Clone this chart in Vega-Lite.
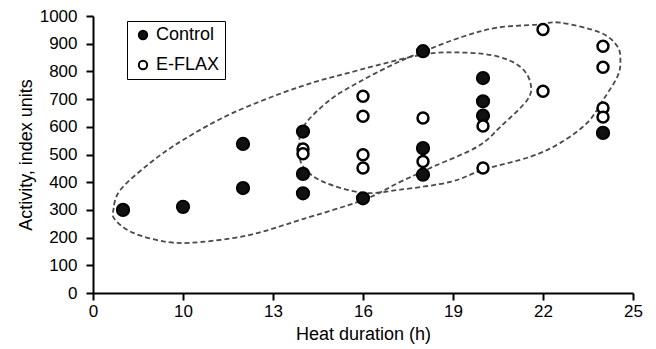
{
  "$schema": "https://vega.github.io/schema/vega-lite/v6.json",
  "width": 540,
  "height": 277,
  "autosize": {"type": "none"},
  "padding": {"left": 93, "top": 16, "right": 23, "bottom": 56},
  "background": "white",
  "config": {
    "view": {"stroke": null},
    "font": "Liberation Sans",
    "axis": {
      "grid": false,
      "domainColor": "#000",
      "domainWidth": 2,
      "tickColor": "#000",
      "tickWidth": 2,
      "tickSize": 7,
      "labelColor": "#000",
      "labelFontSize": 17,
      "labelFlush": false,
      "labelOverlap": false,
      "titleColor": "#000",
      "titleFontSize": 18,
      "titleFontWeight": "normal"
    }
  },
  "datasets": {
    "points": [
      {"hours": 8, "activity": 300, "group": "Control"},
      {"hours": 10, "activity": 311, "group": "Control"},
      {"hours": 12, "activity": 538, "group": "Control"},
      {"hours": 12, "activity": 379, "group": "Control"},
      {"hours": 14, "activity": 583, "group": "Control"},
      {"hours": 14, "activity": 430, "group": "Control"},
      {"hours": 14, "activity": 360, "group": "Control"},
      {"hours": 16, "activity": 342, "group": "Control"},
      {"hours": 18, "activity": 873, "group": "Control"},
      {"hours": 18, "activity": 523, "group": "Control"},
      {"hours": 18, "activity": 427, "group": "Control"},
      {"hours": 20, "activity": 776, "group": "Control"},
      {"hours": 20, "activity": 692, "group": "Control"},
      {"hours": 20, "activity": 640, "group": "Control"},
      {"hours": 24, "activity": 578, "group": "Control"},
      {"hours": 14, "activity": 520, "group": "E-FLAX"},
      {"hours": 14, "activity": 503, "group": "E-FLAX"},
      {"hours": 16, "activity": 710, "group": "E-FLAX"},
      {"hours": 16, "activity": 638, "group": "E-FLAX"},
      {"hours": 16, "activity": 499, "group": "E-FLAX"},
      {"hours": 16, "activity": 451, "group": "E-FLAX"},
      {"hours": 18, "activity": 632, "group": "E-FLAX"},
      {"hours": 18, "activity": 475, "group": "E-FLAX"},
      {"hours": 20, "activity": 603, "group": "E-FLAX"},
      {"hours": 20, "activity": 451, "group": "E-FLAX"},
      {"hours": 22, "activity": 951, "group": "E-FLAX"},
      {"hours": 22, "activity": 728, "group": "E-FLAX"},
      {"hours": 24, "activity": 891, "group": "E-FLAX"},
      {"hours": 24, "activity": 815, "group": "E-FLAX"},
      {"hours": 24, "activity": 668, "group": "E-FLAX"},
      {"hours": 24, "activity": 635, "group": "E-FLAX"}
    ],
    "ellipses": [
      {"e": "A", "i": 1, "hours": 7.68, "activity": 300},
      {"e": "A", "i": 2, "hours": 7.91, "activity": 372},
      {"e": "A", "i": 3, "hours": 8.91, "activity": 470},
      {"e": "A", "i": 4, "hours": 10.01, "activity": 553},
      {"e": "A", "i": 5, "hours": 11.68, "activity": 651},
      {"e": "A", "i": 6, "hours": 13.91, "activity": 745},
      {"e": "A", "i": 7, "hours": 15.91, "activity": 806},
      {"e": "A", "i": 8, "hours": 18.01, "activity": 861},
      {"e": "A", "i": 9, "hours": 19.34, "activity": 868},
      {"e": "A", "i": 10, "hours": 20.48, "activity": 854},
      {"e": "A", "i": 11, "hours": 21.24, "activity": 817},
      {"e": "A", "i": 12, "hours": 21.58, "activity": 759},
      {"e": "A", "i": 13, "hours": 21.48, "activity": 698},
      {"e": "A", "i": 14, "hours": 20.58, "activity": 600},
      {"e": "A", "i": 15, "hours": 19.81, "activity": 528},
      {"e": "A", "i": 16, "hours": 18.34, "activity": 456},
      {"e": "A", "i": 17, "hours": 17.24, "activity": 401},
      {"e": "A", "i": 18, "hours": 16.01, "activity": 336},
      {"e": "A", "i": 19, "hours": 13.91, "activity": 264},
      {"e": "A", "i": 20, "hours": 12.24, "activity": 210},
      {"e": "A", "i": 21, "hours": 10.58, "activity": 184},
      {"e": "A", "i": 22, "hours": 9.48, "activity": 184},
      {"e": "A", "i": 23, "hours": 8.34, "activity": 217},
      {"e": "A", "i": 24, "hours": 7.74, "activity": 264},
      {"e": "B", "i": 1, "hours": 13.88, "activity": 517},
      {"e": "B", "i": 2, "hours": 14.01, "activity": 600},
      {"e": "B", "i": 3, "hours": 14.91, "activity": 698},
      {"e": "B", "i": 4, "hours": 16.01, "activity": 770},
      {"e": "B", "i": 5, "hours": 17.14, "activity": 832},
      {"e": "B", "i": 6, "hours": 18.01, "activity": 872},
      {"e": "B", "i": 7, "hours": 19.34, "activity": 926},
      {"e": "B", "i": 8, "hours": 20.48, "activity": 958},
      {"e": "B", "i": 9, "hours": 21.81, "activity": 969},
      {"e": "B", "i": 10, "hours": 22.58, "activity": 976},
      {"e": "B", "i": 11, "hours": 23.91, "activity": 940},
      {"e": "B", "i": 12, "hours": 24.48, "activity": 890},
      {"e": "B", "i": 13, "hours": 24.58, "activity": 835},
      {"e": "B", "i": 14, "hours": 24.48, "activity": 781},
      {"e": "B", "i": 15, "hours": 24.01, "activity": 698},
      {"e": "B", "i": 16, "hours": 23.48, "activity": 615},
      {"e": "B", "i": 17, "hours": 22.58, "activity": 542},
      {"e": "B", "i": 18, "hours": 21.58, "activity": 492},
      {"e": "B", "i": 19, "hours": 20.01, "activity": 445},
      {"e": "B", "i": 20, "hours": 18.91, "activity": 401},
      {"e": "B", "i": 21, "hours": 17.24, "activity": 373},
      {"e": "B", "i": 22, "hours": 16.01, "activity": 362},
      {"e": "B", "i": 23, "hours": 14.68, "activity": 401},
      {"e": "B", "i": 24, "hours": 14.01, "activity": 456}
    ]
  },
  "encoding": {
    "x": {
      "field": "hours", "type": "quantitative",
      "scale": {"domain": [7, 25], "nice": false, "zero": false},
      "axis": {
        "title": "Heat duration (h)",
        "values": [7, 10, 13, 16, 19, 22, 25],
        "labelExpr": "datum.value == 7 ? '0' : datum.label",
        "labelPadding": 3,
        "titlePadding": 6
      }
    },
    "y": {
      "field": "activity", "type": "quantitative",
      "scale": {"domain": [0, 1000], "nice": false},
      "axis": {
        "title": "Activity, index units",
        "values": [0, 100, 200, 300, 400, 500, 600, 700, 800, 900, 1000],
        "tickCount": 11,
        "format": "d",
        "labelOverlap": false,
        "labelPadding": 9,
        "titlePadding": 4
      }
    }
  },
  "layer": [
    {
      "data": {"name": "ellipses"},
      "mark": {"type": "line", "interpolate": "cardinal-closed", "strokeDash": [5, 3], "color": "#4a4a4a", "strokeWidth": 1.8},
      "encoding": {
        "detail": {"field": "e"},
        "order": {"field": "i", "type": "quantitative"}
      }
    },
    {
      "data": {"name": "points"},
      "transform": [{"filter": "datum.group == 'Control'"}],
      "mark": {"type": "point", "filled": true, "stroke": "#000", "strokeWidth": 2, "opacity": 1, "size": 150},
      "encoding": {
        "fill": {
          "field": "group", "type": "nominal",
          "scale": {"domain": ["Control", "E-FLAX"], "range": ["#111111", "#ffffff"]},
          "legend": {
            "title": null,
            "orient": "none",
            "legendX": 34,
            "legendY": 5,
            "padding": 5,
            "strokeColor": "#000",
            "fillColor": "#fff",
            "symbolType": "circle",
            "symbolSize": 70,
            "symbolStrokeWidth": 2,
            "symbolStrokeColor": "#000",
            "symbolOffset": 2,
            "labelFontSize": 18,
            "labelColor": "#000",
            "labelOffset": 4,
            "rowPadding": 12,
            "encode": {"legend": {"update": {"strokeWidth": {"value": 1.5}}}}
          }
        }
      }
    },
    {
      "data": {"name": "points"},
      "transform": [{"filter": "datum.group == 'E-FLAX'"}],
      "mark": {"type": "point", "filled": true, "stroke": "#000", "strokeWidth": 2.5, "opacity": 1, "size": 120},
      "encoding": {
        "fill": {
          "field": "group", "type": "nominal",
          "scale": {"domain": ["Control", "E-FLAX"], "range": ["#111111", "#ffffff"]}
        }
      }
    }
  ]
}
